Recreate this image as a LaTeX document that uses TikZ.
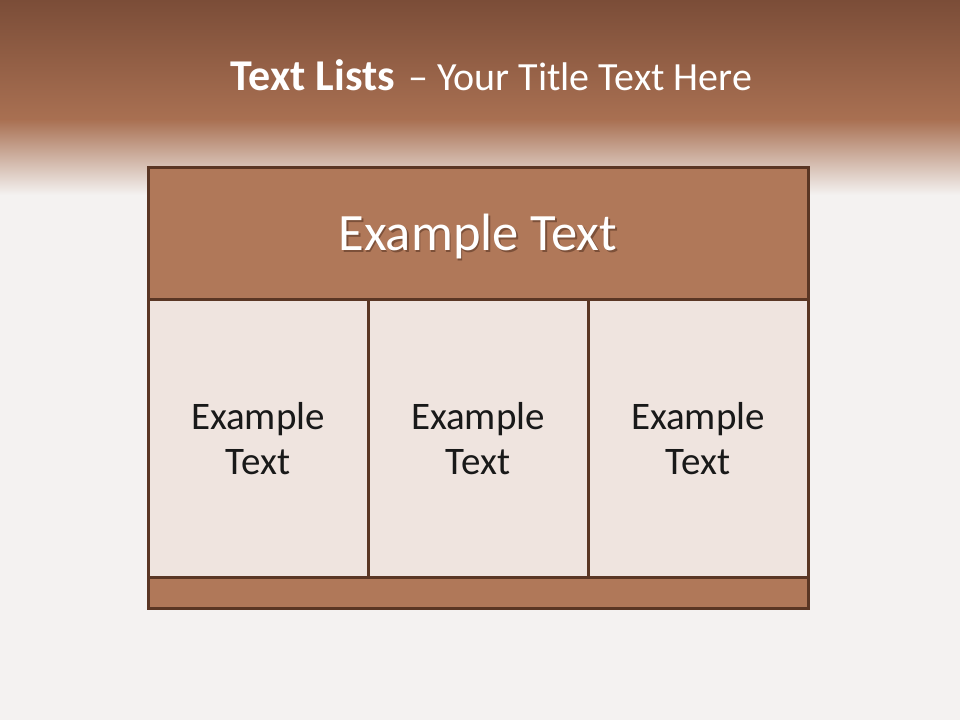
\documentclass[tikz,border=0pt]{standalone}
\usepackage{fontspec}
\setmainfont{Carlito}
\definecolor{bandtop}{HTML}{7B4D38}
\definecolor{bandmid}{HTML}{A97052}
\definecolor{bgc}{HTML}{F4F2F1}
\definecolor{edge}{HTML}{5A3624}
\definecolor{headfill}{HTML}{B07859}
\definecolor{cellfill}{HTML}{EFE4DF}
\definecolor{shadowc}{HTML}{5A3624}
\begin{document}
\begin{tikzpicture}[x=1pt,y=1pt,
  box/.style={draw=edge, line width=3pt, rectangle, inner sep=0pt},
  headbox/.style={box, fill=headfill, minimum width=660pt, minimum height=132pt},
  cellbox/.style={box, fill=cellfill, minimum width=220pt, minimum height=277pt,
     align=center, font=\fontsize{39}{45}\selectfont, text=black!90},
  footbox/.style={box, fill=headfill, minimum width=660pt, minimum height=31pt},
  headtext/.style={font=\fontsize{52.5}{60}\selectfont, text=white},
  titletext/.style={font=\fontsize{40}{50}\selectfont, text=white}
]
\useasboundingbox (0,0) rectangle (960,720);
\fill[bgc] (0,0) rectangle (960,720);
\shade[top color=bandtop, bottom color=bandmid] (0,720) rectangle (960,600);
\shade[top color=bandmid, bottom color=bgc] (0,600.5) rectangle (960,525);
\node[titletext] (title) at (491.5,645) {{\fontsize{44}{50}\selectfont\bfseries Text Lists}\hspace{13pt}– Your Title Text Here};
\node[headbox] (head) at (478,486) {};
\node[cellbox] (c1) at (258,281.5) {Example\\Text};
\node[cellbox] (c2) at (478,281.5) {Example\\Text};
\node[cellbox] (c3) at (698,281.5) {Example\\Text};
\node[footbox] (foot) at (478,127.5) {};
\node[headtext, text=shadowc, opacity=0.6] (headshadow) at ([xshift=1.5pt,yshift=-4.5pt]head.center) {Example Text};
\node[headtext] (headlabel) at ([yshift=-3pt]head.center) {Example Text};
\end{tikzpicture}
\end{document}
